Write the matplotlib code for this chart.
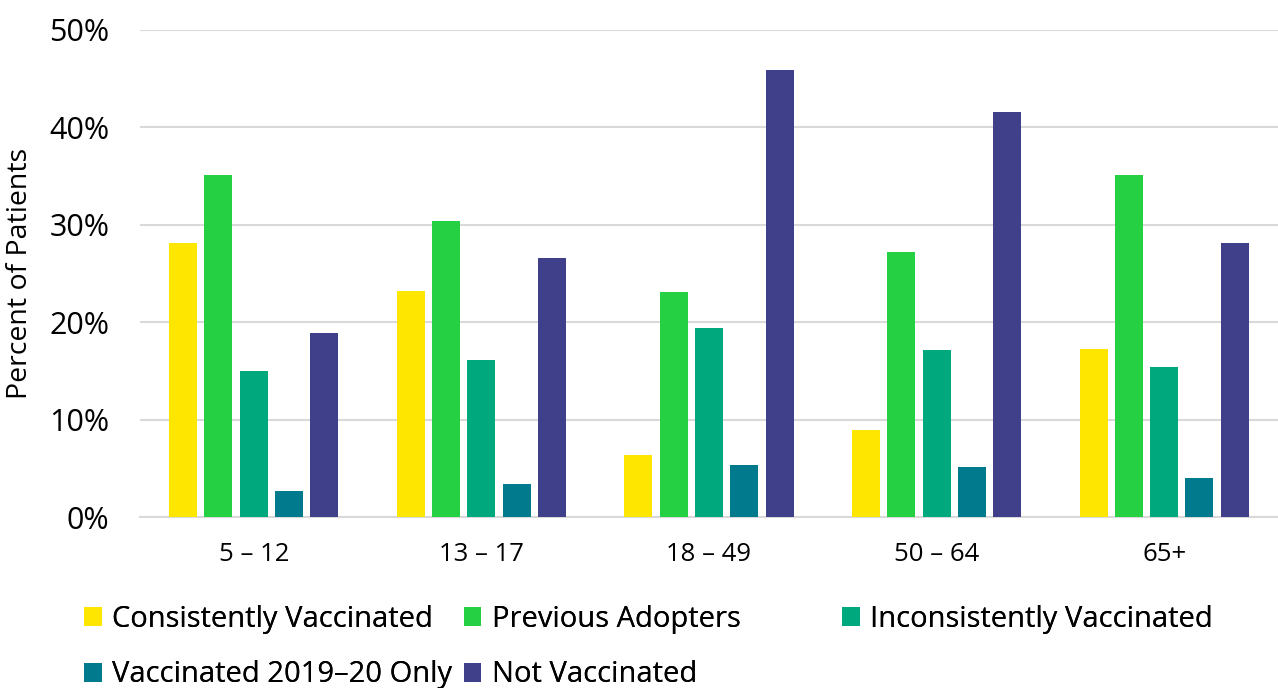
import numpy as np
import matplotlib.pyplot as plt
from matplotlib.patches import Patch
from matplotlib.ticker import PercentFormatter

plt.rcParams['font.family'] = ['Open Sans', 'DejaVu Sans']

# data (fractions of patients)
age_groups = ['5 – 12', '13 – 17', '18 – 49', '50 – 64', '65+']
series_names = ['Consistently Vaccinated', 'Previous Adopters', 'Inconsistently Vaccinated',
                'Vaccinated 2019–20 Only', 'Not Vaccinated']
consistently = [0.281, 0.232, 0.064, 0.089, 0.172]
previous = [0.351, 0.304, 0.231, 0.272, 0.351]
inconsistently = [0.150, 0.161, 0.194, 0.171, 0.154]
only_2019_20 = [0.027, 0.034, 0.053, 0.051, 0.040]
not_vaccinated = [0.189, 0.266, 0.459, 0.416, 0.281]
colors = ['#FFE600', '#25D043', '#00A87E', '#017A8E', '#3F3F8A']

series = [consistently, previous, inconsistently, only_2019_20, not_vaccinated]

fig = plt.figure(figsize=(12.78, 6.88), dpi=100)
ax = fig.add_axes([0.1095, 0.2485, 0.8905, 0.708])

x = np.arange(len(age_groups))
pitch = 0.155
width = 0.123
for i, (vals, col) in enumerate(zip(series, colors)):
    ax.bar(x + (i - 2) * pitch, vals, width=width, color=col, zorder=3)

ax.set_xlim(-0.5, 4.5)
ax.set_ylim(0, 0.5)
ax.set_yticks(np.arange(0, 0.51, 0.1))
ax.yaxis.set_major_formatter(PercentFormatter(1.0, decimals=0))
ax.set_xticks(x)
ax.set_xticklabels(age_groups, fontsize=18.5)
ax.tick_params(axis='y', labelsize=22, length=0, pad=22)
ax.tick_params(axis='x', length=0, pad=18)
ax.grid(axis='y', color='#D9D9D9', linewidth=1.5, zorder=0)
for s in ['top', 'right', 'left']:
    ax.spines[s].set_visible(False)
ax.spines['bottom'].set_color('#D9D9D9')
ax.spines['bottom'].set_linewidth(1.5)
ax.set_ylabel('Percent of Patients', fontsize=20.5)
ax.yaxis.set_label_coords(-0.093, 0.5)

# legend laid out on a 3-column grid, two rows (like the original)
handles = [Patch(facecolor=c, edgecolor='none') for c in colors]
col_x = [0.066, 0.363, 0.659]
row_y = [0.100, 0.019]
leg_kw = dict(loc='center left', frameon=False, fontsize=21,
              handlelength=0.6, handleheight=0.62, handletextpad=0.35,
              borderpad=0, borderaxespad=0)
for k, (h, name) in enumerate(zip(handles, series_names)):
    r, c = divmod(k, 3)
    leg = fig.legend([h], [name], bbox_to_anchor=(col_x[c], row_y[r]), **leg_kw)
    fig.add_artist(leg)

fig.savefig('out.png', dpi=100, facecolor='white')
